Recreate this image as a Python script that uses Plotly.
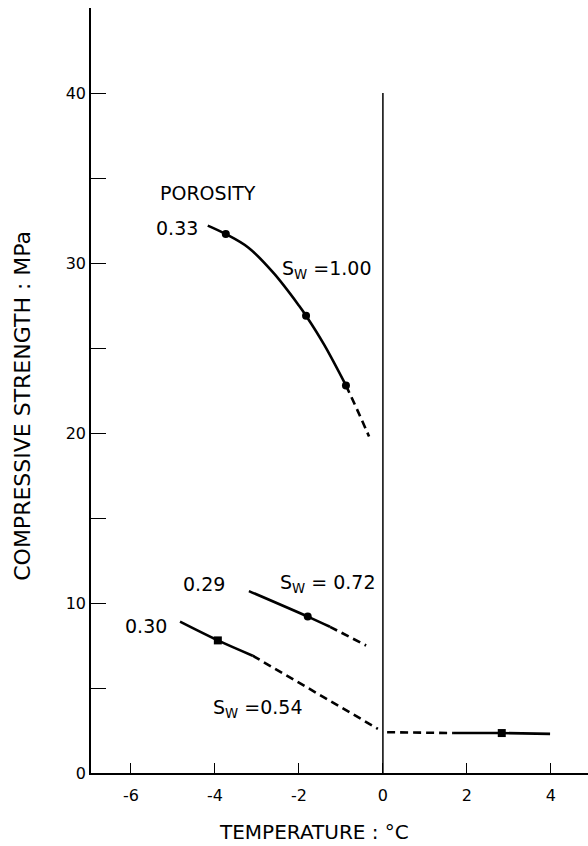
import plotly.graph_objects as go

# ---- data ----
# Sw = 1.00 (porosity 0.33)
sw100_solid_x = [-4.17, -3.74, -3.2, -2.6, -2.0, -1.83, -1.4, -0.88]
sw100_solid_y = [32.2, 31.7, 30.9, 29.4, 27.5, 26.9, 25.2, 22.8]
sw100_dash_x = [-0.88, -0.6, -0.33]
sw100_dash_y = [22.8, 21.3, 19.8]
sw100_pts_x = [-3.74, -1.83, -0.88]
sw100_pts_y = [31.7, 26.9, 22.8]

# Sw = 0.72 (porosity 0.29)
sw072_solid_x = [-3.19, -1.79, -1.26]
sw072_solid_y = [10.7, 9.2, 8.6]
sw072_dash_x = [-1.26, -0.40]
sw072_dash_y = [8.6, 7.5]
sw072_pts_x = [-1.79]
sw072_pts_y = [9.2]

# Sw = 0.54 (porosity 0.30)
sw054_solid_x = [-4.83, -3.93, -3.1]
sw054_solid_y = [8.9, 7.8, 6.9]
sw054_dash_x = [-3.1, -0.12]
sw054_dash_y = [6.9, 2.6]
sw054_pts_x = [-3.93]
sw054_pts_y = [7.8]

# above freezing
warm_dash_x = [0.1, 1.67]
warm_dash_y = [2.4, 2.35]
warm_solid_x = [1.67, 2.83, 3.98]
warm_solid_y = [2.35, 2.35, 2.3]
warm_pts_x = [2.83]
warm_pts_y = [2.35]

# 0 degC reference line
zero_x = [0, 0]
zero_y = [0, 40]

x_ticks = [-6, -4, -2, 0, 2, 4]
x_tick_text = ["-6", "-4", "-2", "0", "2", "4"]
y_ticks = [0, 10, 20, 30, 40]
y_tick_text = ["0", "10", "20", "30", "40"]
y_minor_ticks = [5, 15, 25, 35, 45]

X_TITLE = "TEMPERATURE : °C"
Y_TITLE = "COMPRESSIVE STRENGTH : MPa"

FONT = "DejaVu Sans"
INK = "black"
LW = 2.6
DASH = "8px,5px"

fig = go.Figure()

def line(x, y, dash="solid", width=LW, shape="linear"):
    fig.add_trace(go.Scatter(x=x, y=y, mode="lines", showlegend=False,
                             hoverinfo="skip",
                             line=dict(color=INK, width=width, dash=dash, shape=shape)))

def pts(x, y, symbol):
    fig.add_trace(go.Scatter(x=x, y=y, mode="markers", showlegend=False,
                             marker=dict(color=INK, size=8, symbol=symbol)))

line(zero_x, zero_y, width=1.5)

line(sw100_solid_x, sw100_solid_y, shape="spline")
line(sw100_dash_x, sw100_dash_y, DASH, shape="spline")
pts(sw100_pts_x, sw100_pts_y, "circle")

line(sw072_solid_x, sw072_solid_y, shape="spline")
line(sw072_dash_x, sw072_dash_y, DASH)
pts(sw072_pts_x, sw072_pts_y, "circle")

line(sw054_solid_x, sw054_solid_y, shape="spline")
line(sw054_dash_x, sw054_dash_y, DASH)
pts(sw054_pts_x, sw054_pts_y, "square")

line(warm_dash_x, warm_dash_y, DASH)
line(warm_solid_x, warm_solid_y)
pts(warm_pts_x, warm_pts_y, "square")

ann_font = dict(family=FONT, size=19, color=INK)
labels = [
    ("POROSITY", -4.17, 34.1, "center"),
    ("0.33", -4.36, 32.05, "right"),
    ("S<sub>W</sub> =1.00", -2.44, 29.6, "left"),
    ("0.29", -4.25, 11.1, "center"),
    ("S<sub>W</sub> = 0.72", -2.49, 11.15, "left"),
    ("0.30", -5.63, 8.65, "center"),
    ("S<sub>W</sub> =0.54", -4.1, 3.8, "left"),
]
for txt, x, y, anchor in labels:
    fig.add_annotation(x=x, y=y, text=txt, showarrow=False, xanchor=anchor,
                       yanchor="middle", font=ann_font)

# axis titles placed as in the reference (not centred on the plot area)
fig.add_annotation(x=-1.64, xref="x", y=0, yref="paper", yshift=-59,
                   text=X_TITLE, showarrow=False, xanchor="center", yanchor="middle",
                   font=dict(family=FONT, size=20, color=INK))
fig.add_annotation(x=0, xref="paper", xshift=-68, y=21.6, yref="y",
                   text=Y_TITLE, showarrow=False, textangle=-90,
                   xanchor="center", yanchor="middle",
                   font=dict(family=FONT, size=22, color=INK))

fig.update_layout(
    width=588, height=846,
    margin=dict(l=91, r=0, t=8, b=73),
    paper_bgcolor="white", plot_bgcolor="white",
    showlegend=False,
    font=dict(family=FONT, color=INK),
)
fig.update_xaxes(
    range=[-6.95, 4.883], showgrid=False, zeroline=False,
    showline=True, linecolor=INK, linewidth=1.6,
    tickmode="array", tickvals=x_ticks, ticktext=x_tick_text,
    ticks="inside", ticklen=10, tickwidth=1.3, tickcolor=INK,
    tickfont=dict(family=FONT, size=16, color=INK), ticklabelstandoff=7,
)
fig.update_yaxes(
    range=[0, 45], showgrid=False, zeroline=False,
    showline=True, linecolor=INK, linewidth=1.6,
    tickmode="array", tickvals=y_ticks, ticktext=y_tick_text,
    ticks="inside", ticklen=15, tickwidth=1.3, tickcolor=INK,
    tickfont=dict(family=FONT, size=16, color=INK),
    minor=dict(tickmode="array", tickvals=y_minor_ticks, ticks="inside",
               ticklen=15, tickwidth=1.3, tickcolor=INK, showgrid=False),
)

fig.write_html("out.html")
